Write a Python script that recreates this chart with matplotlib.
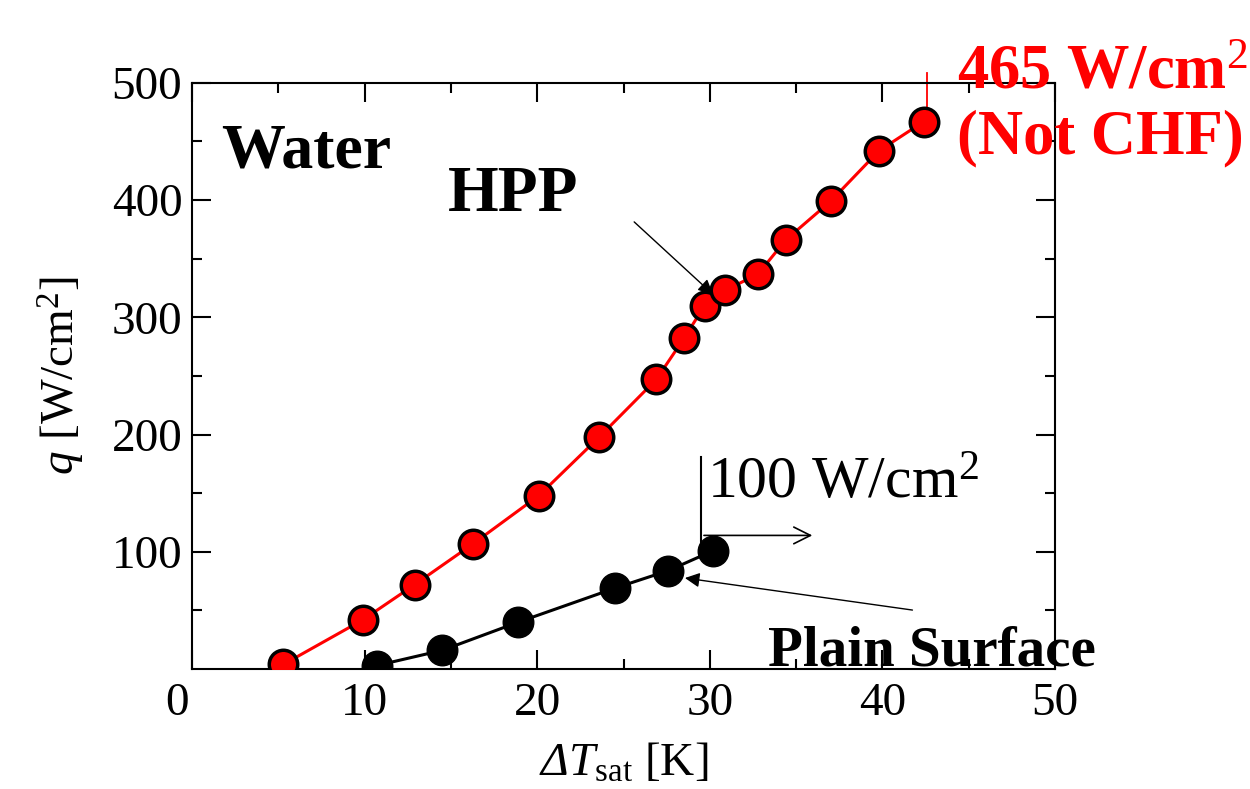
import matplotlib
matplotlib.use('Agg')
import matplotlib.pyplot as plt
from matplotlib.transforms import ScaledTranslation

plt.rcParams['font.family'] = ['Liberation Serif', 'DejaVu Serif']
plt.rcParams['mathtext.fontset'] = 'custom'
plt.rcParams['mathtext.rm'] = 'Liberation Serif'
plt.rcParams['mathtext.it'] = 'Liberation Serif:italic'
plt.rcParams['mathtext.bf'] = 'Liberation Serif:bold'
# italic Greek capital goes through the sf slot (mathtext forces it -> rm)
plt.rcParams['mathtext.sf'] = 'Liberation Serif:italic'

# HPP surface (red) and plain surface (black)
dt_hpp = [5.3, 9.9, 12.9, 16.3, 20.1, 23.6, 26.9, 28.5, 29.7, 30.9, 32.8, 34.4, 37.0, 39.8, 42.4]
q_hpp = [4, 42, 72, 107, 148, 198, 247, 282, 310, 323, 337, 366, 399, 442, 467]
dt_plain = [10.7, 14.5, 18.9, 24.5, 27.6, 30.2]
q_plain = [3, 16, 40, 69, 84, 101]

x_ticks = [0, 10, 20, 30, 40, 50]
y_ticks = [100, 200, 300, 400, 500]
x_minor = [5, 15, 25, 35, 45]
y_minor = [50, 150, 250, 350, 450]

fig = plt.figure(figsize=(12.5, 7.89), dpi=100)
ax = fig.add_axes([0.1536, 0.152, 0.6904, 0.743])

ax.plot(dt_hpp, q_hpp, color='red', lw=2.2, marker='o', ms=20.5,
        mfc='red', mec='black', mew=2.5, zorder=3)
ax.plot(dt_plain, q_plain, color='black', lw=2.2, marker='o', ms=22,
        mfc='black', mec='black', zorder=3)

ax.set_xlim(0, 50)
ax.set_ylim(0, 500)
ax.set_xticks(x_ticks)
ax.set_yticks(y_ticks)
ax.set_xticks(x_minor, minor=True)
ax.set_yticks(y_minor, minor=True)
ax.tick_params(which='both', direction='in', top=True, right=True, width=1.5)
ax.tick_params(which='major', length=14)
ax.tick_params(which='minor', length=7)
ax.tick_params(axis='x', labelsize=34, pad=10)
ax.tick_params(axis='y', labelsize=34, pad=7)
for s in ax.spines.values():
    s.set_linewidth(1.5)

# origin label sits left of the corner
lab0 = ax.xaxis.get_major_ticks()[0].label1
lab0.set_transform(lab0.get_transform() + ScaledTranslation(-0.15, 0, fig.dpi_scale_trans))

ax.set_xlabel(r'$\mathsf{Δ}\mathit{T}_{\mathrm{sat}}$ [K]', fontsize=34, labelpad=12)
ax.set_ylabel(r'$\mathit{q}$ [W/cm$^2$]', fontsize=34, labelpad=18)

# annotations
ax.text(1.7, 428, 'Water', fontsize=46, fontweight='bold', va='baseline')
ax.text(14.8, 391, 'HPP', fontsize=47, fontweight='bold', va='baseline')
ax.annotate('', xy=(30.3, 318), xytext=(25.5, 383),
            arrowprops=dict(arrowstyle='-|>', lw=1, color='black', mutation_scale=22))

ax.text(33.4, 3.4, 'Plain Surface', fontsize=41, fontweight='bold', va='baseline',
        clip_on=False)
ax.annotate('', xy=(28.4, 78), xytext=(41.9, 50),
            arrowprops=dict(arrowstyle='-|>', lw=1, color='black', mutation_scale=22))

ax.text(29.85, 146, r'100 W/cm$^2$', fontsize=43, va='baseline')
ax.plot([29.5, 29.5], [104, 181], color='black', lw=1.5)
ax.annotate('', xy=(36.1, 114), xytext=(29.5, 114),
            arrowprops=dict(arrowstyle='->', lw=1.2, color='black', mutation_scale=30))

ax.plot([42.6, 42.6], [476, 508], color='red', lw=1.3, clip_on=False)
ax.text(44.3, 495, '465 W/cm$^2$', fontsize=45, fontweight='bold',
        color='red', va='baseline', clip_on=False)
ax.text(44.3, 440, '(Not CHF)', fontsize=45, fontweight='bold',
        color='red', va='baseline', clip_on=False)

fig.savefig('out.png', dpi=100, facecolor='white')
